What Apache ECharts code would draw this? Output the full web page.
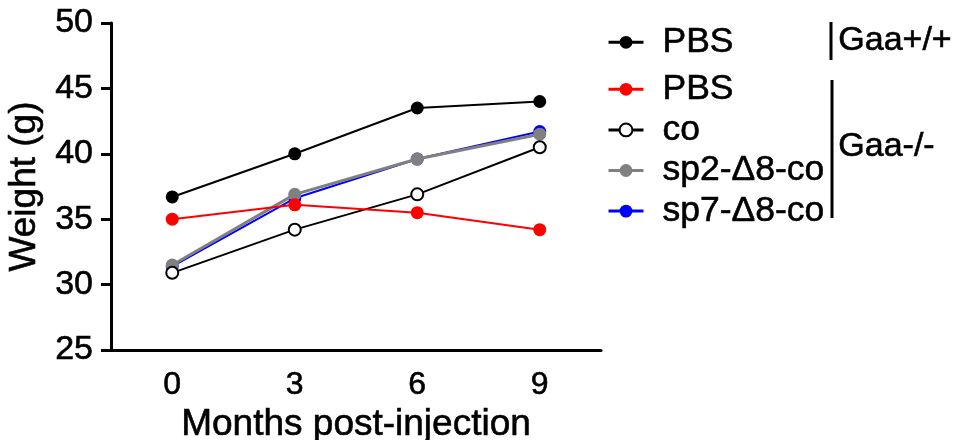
<!DOCTYPE html>
<html>
<head>
<meta charset="utf-8">
<script src="https://cdn.jsdelivr.net/npm/echarts@6/dist/echarts.min.js"></script>
<style>html,body{margin:0;padding:0;background:#fff}#c{width:960px;height:440px}</style>
</head>
<body>
<div id="c"></div>
<script>
const months = ['0', '3', '6', '9'];
const pbsWild = [36.7, 40.0, 43.5, 44.0];
const pbsKO = [35.0, 36.1, 35.5, 34.2];
const coKO = [30.9, 34.2, 36.9, 40.5];
const sp2KO = [31.5, 36.9, 39.6, 41.5];
const sp7KO = [31.4, 36.6, 39.6, 41.7];
const yTicks = { min: 25, max: 50, step: 5 };
const seriesNames = ['PBS (Gaa+/+)', 'PBS (Gaa-/-)', 'co', 'sp2-Δ8-co', 'sp7-Δ8-co'];
const groupLabels = ['Gaa+/+', 'Gaa-/-'];

const FONT = '"Liberation Sans", Arial, sans-serif';
const HEAVY = { textBorderColor: '#000', textBorderWidth: 0.6 };
const chart = echarts.init(document.getElementById('c'), null, { renderer: 'canvas' });

function mk(name, data, color, opts) {
  return Object.assign({
    name: name,
    type: 'line',
    data: data,
    symbol: 'circle',
    symbolSize: 13,
    showSymbol: true,
    lineStyle: { color: color, width: 2 },
    itemStyle: { color: color },
    emphasis: { disabled: true },
    animation: false
  }, opts || {});
}

const legendText = Object.assign({
  fontFamily: FONT, fontSize: 35.5, color: '#000', lineHeight: 35,
  padding: [0, 0, 0, 14]
}, HEAVY);
const legendCommon = {
  orient: 'vertical', left: 607, padding: 0,
  itemWidth: 35, itemHeight: 16, itemGap: 4,
  formatter: n => n.split(' (')[0],
  textStyle: legendText,
  lineStyle: { width: 3 },
  selectedMode: false
};

chart.setOption({
  animation: false,
  grid: { left: 111, right: 359, top: 23, bottom: 90, containLabel: false, outerBoundsMode: 'none' },
  xAxis: {
    type: 'category',
    data: months,
    boundaryGap: true,
    name: 'Months post-injection',
    nameLocation: 'middle',
    nameGap: 47,
    nameTextStyle: Object.assign({ fontFamily: FONT, fontSize: 37, color: '#000' }, HEAVY),
    axisLine: { lineStyle: { color: '#000', width: 3 } },
    axisTick: { alignWithLabel: true, length: 8, lineStyle: { color: '#000', width: 3 } },
    axisLabel: Object.assign({ fontFamily: FONT, fontSize: 32, color: '#000', margin: 19 }, HEAVY),
    splitLine: { show: false }
  },
  yAxis: {
    type: 'value',
    min: yTicks.min, max: yTicks.max, interval: yTicks.step,
    name: 'Weight (g)',
    nameLocation: 'middle',
    nameGap: 64,
    nameRotate: 90,
    nameTextStyle: Object.assign({ fontFamily: FONT, fontSize: 37, color: '#000' }, HEAVY),
    axisLine: { show: true, lineStyle: { color: '#000', width: 3 } },
    axisTick: { show: true, length: 10, lineStyle: { color: '#000', width: 3 } },
    axisLabel: Object.assign({ fontFamily: FONT, fontSize: 34, color: '#000', margin: 18 }, HEAVY),
    splitLine: { show: false }
  },
  legend: [
    Object.assign({}, legendCommon, { data: [seriesNames[0]], top: 24 }),
    Object.assign({}, legendCommon, { data: seriesNames.slice(1), top: 71 })
  ],
  graphic: [
    { type: 'line', shape: { x1: 831, y1: 22, x2: 831, y2: 60 }, style: { stroke: '#000', lineWidth: 3 } },
    { type: 'line', shape: { x1: 832, y1: 80, x2: 832, y2: 218 }, style: { stroke: '#000', lineWidth: 3 } },
    { type: 'text', left: 838, top: 23, style: { text: groupLabels[0], font: '34px ' + FONT, fill: '#000', stroke: '#000', lineWidth: 0.6 } },
    { type: 'text', left: 838, top: 129, style: { text: groupLabels[1], font: '34px ' + FONT, fill: '#000', stroke: '#000', lineWidth: 0.6 } }
  ],
  series: [
    mk(seriesNames[0], pbsWild, '#000000', { z: 7 }),
    mk(seriesNames[1], pbsKO, '#ff0000', { z: 6 }),
    mk(seriesNames[2], coKO, '#000000', { z: 5, symbol: 'emptyCircle', symbolSize: 12, itemStyle: { color: '#000', borderWidth: 2 } }),
    mk(seriesNames[3], sp2KO, '#808080', { z: 4, lineStyle: { color: '#808080', width: 3 } }),
    mk(seriesNames[4], sp7KO, '#0000ff', { z: 3 })
  ]
});
</script>
</body>
</html>
